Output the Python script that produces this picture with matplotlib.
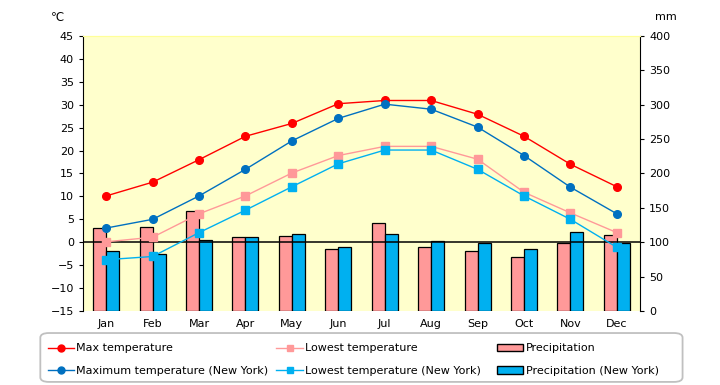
import matplotlib
matplotlib.use("Agg")
import matplotlib.pyplot as plt
import numpy as np
from matplotlib.lines import Line2D
from matplotlib.patches import Patch, FancyBboxPatch

months = ["Jan", "Feb", "Mar", "Apr", "May", "Jun", "Jul", "Aug", "Sep", "Oct", "Nov", "Dec"]
max_temp = [10.1, 13.1, 18.0, 23.1, 25.9, 30.2, 30.9, 30.9, 27.9, 23.1, 17.0, 12.1]
low_temp = [0.1, 1.1, 6.2, 10.1, 15.1, 18.9, 20.9, 20.9, 18.1, 10.9, 6.4, 2.1]
max_temp_ny = [3.1, 5.0, 10.1, 15.9, 22.1, 27.0, 30.1, 29.0, 25.1, 18.9, 12.0, 6.2]
low_temp_ny = [-3.8, -3.1, 2.1, 7.0, 12.1, 17.1, 20.1, 20.1, 15.9, 10.1, 5.0, -1.1]
precip = [120, 121.5, 146, 107, 108.5, 89.5, 127.5, 92.5, 87, 78, 98.5, 110]
precip_ny = [87, 82.5, 104, 107, 111.5, 92.5, 111.5, 101.5, 98.5, 89.5, 114.5, 98.5]

plt.rcParams['font.family'] = ['DejaVu Sans']
plt.rcParams['font.size'] = 8

fig = plt.figure(figsize=(7.2, 3.85), dpi=100)
ax = fig.add_axes([0.1153, 0.192, 0.7737, 0.715])
ax2 = ax.twinx()

x = np.arange(len(months))
w = 0.28

# bars on the mm axis, underneath the lines
ax2.set_zorder(1)
ax.set_zorder(2)
ax.patch.set_visible(False)
ax2.patch.set_visible(True)
ax2.patch.set_facecolor("#FFFFCC")

ax2.bar(x - w / 2, precip, width=w, color="#FF9999", edgecolor="black", linewidth=0.9)
ax2.bar(x + w / 2, precip_ny, width=w, color="#00B0F0", edgecolor="black", linewidth=0.9)

ax.axhline(0, color="black", linewidth=1.1, zorder=1)
ax.plot(x, max_temp, color="#FF0000", marker="o", markersize=5.5, linewidth=1, zorder=3)
ax.plot(x, max_temp_ny, color="#0070C0", marker="o", markersize=5.5, linewidth=1, zorder=3)
ax.plot(x, low_temp, color="#FF9999", marker="s", markersize=5.5, linewidth=1, zorder=3)
ax.plot(x, low_temp_ny, color="#00B0F0", marker="s", markersize=5.5, linewidth=1, zorder=3)

ax.set_xlim(-0.5, 11.5)
ax.set_ylim(-15, 45)
ax.set_yticks(np.arange(-15, 46, 5))
ax2.set_ylim(0, 400)
ax2.set_yticks(np.arange(0, 401, 50))
ax.set_xticks(x)
ax.set_xticklabels(months)
ax.tick_params(axis="x", length=0, pad=6)
ax.tick_params(axis="y", length=3, direction="out")
ax2.tick_params(axis="y", length=3, direction="out")

for a in (ax, ax2):
    a.spines["bottom"].set_visible(False)
    a.spines["top"].set_color("#FFFF99")
ax.spines["right"].set_visible(False)
ax2.spines["left"].set_visible(False)

fig.text(0.080, 0.955, "℃", ha="center", va="center", fontsize=8.5)
fig.text(0.925, 0.955, "mm", ha="center", va="center", fontsize=8)

# legend: rounded frame plus three columns
frame = FancyBboxPatch((0.056, 0.008), 0.892, 0.127, transform=fig.transFigure,
                       boxstyle="round,pad=0,rounding_size=0.012",
                       facecolor="white", edgecolor="#C0C0C0", linewidth=1.3)
fig.patches.append(frame)

cols = [
    ([Line2D([], [], color="#FF0000", marker="o", markersize=5, linewidth=1),
      Line2D([], [], color="#0070C0", marker="o", markersize=5, linewidth=1)],
     ["Max temperature", "Maximum temperature (New York)"], 0.066),
    ([Line2D([], [], color="#FF9999", marker="s", markersize=5, linewidth=1),
      Line2D([], [], color="#00B0F0", marker="s", markersize=5, linewidth=1)],
     ["Lowest temperature", "Lowest temperature (New York)"], 0.384),
    ([Patch(facecolor="#FF9999", edgecolor="black"),
      Patch(facecolor="#00B0F0", edgecolor="black")],
     ["Precipitation", "Precipitation (New York)"], 0.690),
]
for h, l, xpos in cols:
    fig.legend(h, l, loc="upper left", bbox_to_anchor=(xpos, 0.108), frameon=False,
               fontsize=8, handlelength=2.4, handletextpad=0.2, borderpad=0,
               borderaxespad=0, labelspacing=1.15)

fig.savefig("out.png", dpi=100)
